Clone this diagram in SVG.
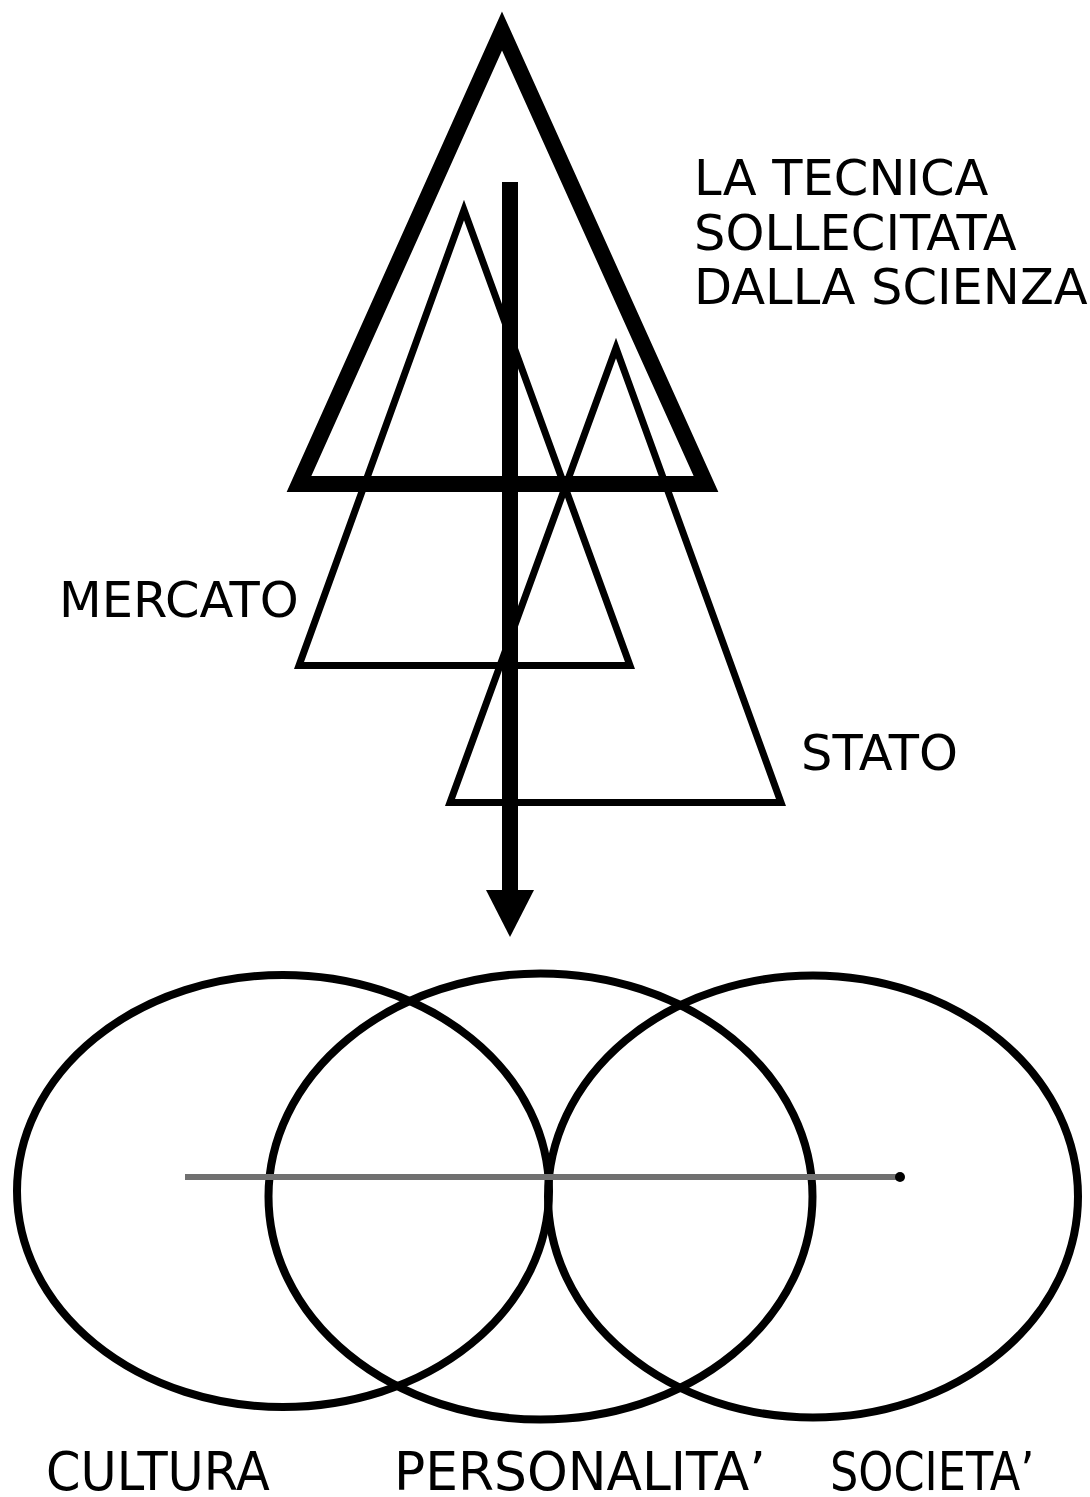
<svg xmlns="http://www.w3.org/2000/svg" width="1090" height="1497" viewBox="0 0 1090 1497">
  <style>
    .tri { fill: none; stroke: #000; stroke-linejoin: miter; stroke-miterlimit: 10; }
    .ell { fill: none; stroke: #000; stroke-width: 8; }
    .lbl { font-family: "DejaVu Sans", Verdana, sans-serif; font-size: 49.5px; fill: #000; }
    .bot { font-family: "DejaVu Sans", Verdana, sans-serif; font-size: 48px; fill: #000; }
  </style>
  <rect x="0" y="0" width="1090" height="1497" fill="#fff"/>
  <g id="tecnica">
    <polygon class="tri" points="502,31 299,484 706,484" stroke-width="16"/>
    <text class="lbl" x="694" y="195">LA TECNICA</text>
    <text class="lbl" x="694" y="250">SOLLECITATA</text>
    <text class="lbl" x="694" y="304">DALLA SCIENZA</text>
  </g>
  <g id="mercato">
    <polygon class="tri" points="464,210 299,665.5 630,665.5" stroke-width="7"/>
    <text class="lbl" x="59" y="617">MERCATO</text>
  </g>
  <g id="stato">
    <polygon class="tri" points="616,348 450,802.5 781,802.5" stroke-width="7"/>
    <text class="lbl" x="801" y="770">STATO</text>
  </g>
  <g id="cultura">
    <ellipse class="ell" cx="283" cy="1191" rx="266" ry="216"/>
    <text class="bot" transform="translate(46,1490) scale(1.03,1.1)">CULTURA</text>
  </g>
  <g id="personalita">
    <ellipse class="ell" cx="540.5" cy="1196.5" rx="272" ry="223"/>
    <text class="bot" transform="translate(394,1490) scale(1.08,1.1)">PERSONALITA’</text>
  </g>
  <g id="societa">
    <ellipse class="ell" cx="813" cy="1196.5" rx="265" ry="221"/>
    <text class="bot" transform="translate(830,1490) scale(0.93,1.1)">SOCIETA’</text>
  </g>
  <g id="connectors">
    <line x1="510" y1="182" x2="510" y2="891" stroke="#000" stroke-width="16"/>
    <polygon points="486,890 534,890 510,937" fill="#000"/>
    <line x1="185" y1="1177" x2="898" y2="1177" stroke="#707070" stroke-width="6"/>
    <circle cx="900" cy="1177" r="5" fill="#000"/>
  </g>
</svg>
